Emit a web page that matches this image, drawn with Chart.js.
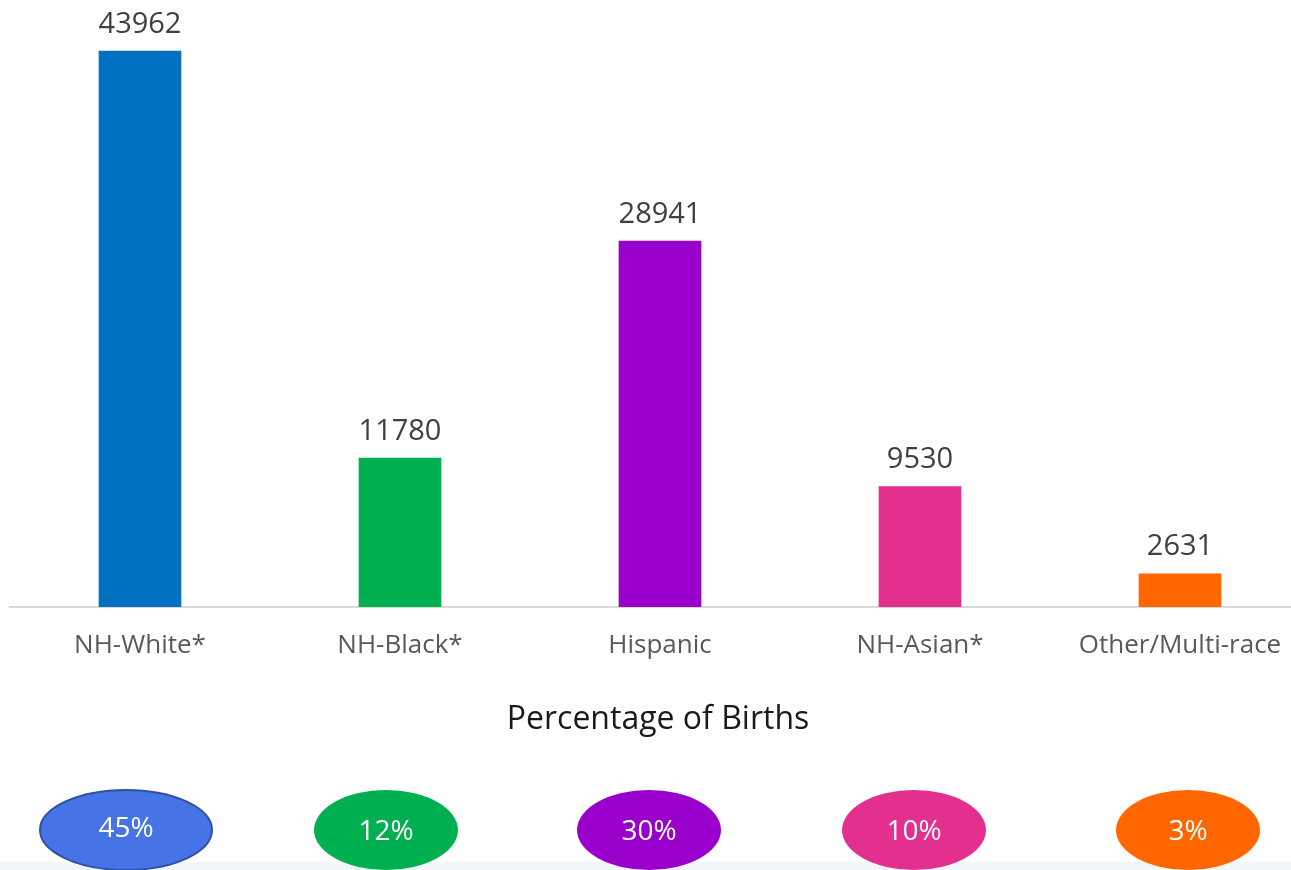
<!DOCTYPE html>
<html>
<head>
<meta charset="utf-8">
<script src="https://cdn.jsdelivr.net/npm/chart.js@4.4.1/dist/chart.umd.min.js"></script>
<style>
  html, body { margin: 0; padding: 0; background: #fff; overflow: hidden; }
  #wrap { width: 1320px; height: 870px; }
</style>
</head>
<body>
<div id="wrap"><canvas id="births"></canvas></div>
<script>
const groups = ["NH-White*", "NH-Black*", "Hispanic", "NH-Asian*", "Other/Multi-race"];
const births = [43962, 11780, 28941, 9530, 2631];
const shares = ["45%", "12%", "30%", "10%", "3%"];
const barColors = ["#0070C0", "#00B050", "#9900CC", "#E3308F", "#FF6600"];
const ovalColors = ["#4674E6", "#00B050", "#9900CC", "#E3308F", "#FF6600"];
// ovals sit a little left of the bars in the original
const ovalShift = [-14, -14, -11, -6, 8];

const font = "'Open Sans', sans-serif";

const extras = {
  id: 'extras',
  afterDatasetsDraw(chart) {
    const ctx = chart.ctx;
    const meta = chart.getDatasetMeta(0);
    ctx.save();
    ctx.fillStyle = '#404040';
    ctx.font = '29px ' + font;
    ctx.textAlign = 'center';
    ctx.textBaseline = 'bottom';
    meta.data.forEach((bar, i) => {
      ctx.fillText(births[i], bar.x, bar.y - 12);
    });
    ctx.restore();
  },
  afterDraw(chart) {
    const ctx = chart.ctx;
    const x = chart.scales.x;
    ctx.save();
    // strip at the very bottom
    ctx.fillStyle = '#F2F6FA';
    ctx.fillRect(0, 862, chart.width, 8);

    ctx.fillStyle = '#1a1a1a';
    ctx.font = '32px ' + font;
    ctx.textAlign = 'center';
    ctx.textBaseline = 'middle';
    ctx.fillText('Percentage of Births', 658, 720);

    shares.forEach((s, i) => {
      const cx = x.getPixelForValue(i) + ovalShift[i];
      const rx = i === 0 ? 86 : 72;
      ctx.beginPath();
      ctx.ellipse(cx, 830, rx, 40, 0, 0, Math.PI * 2);
      ctx.fillStyle = ovalColors[i];
      ctx.fill();
      if (i === 0) {
        ctx.lineWidth = 2;
        ctx.strokeStyle = '#2F529F';
        ctx.stroke();
      }
      ctx.fillStyle = '#fff';
      ctx.font = '28px ' + font;
      ctx.fillText(s, cx, i === 0 ? 829 : 832);
    });
    ctx.restore();
  }
};

new Chart(document.getElementById('births'), {
  type: 'bar',
  data: {
    labels: groups,
    datasets: [{
      data: births,
      backgroundColor: barColors,
      barThickness: 82
    }]
  },
  options: {
    responsive: true,
    maintainAspectRatio: false,
    animation: false,
    layout: { padding: { left: 10, right: 10, top: 0, bottom: 0 } },
    plugins: { legend: { display: false }, tooltip: { enabled: false } },
    scales: {
      x: {
        grid: { display: false, drawTicks: false },
        border: { display: true, color: '#D9D9D9', width: 2 },
        ticks: { color: '#595959', font: { family: font, size: 26 }, padding: 23, maxRotation: 0 },
        afterFit(s) { s.height = 263; }
      },
      y: {
        display: false,
        min: 0,
        max: 48000
      }
    }
  },
  plugins: [extras]
});
</script>
</body>
</html>
